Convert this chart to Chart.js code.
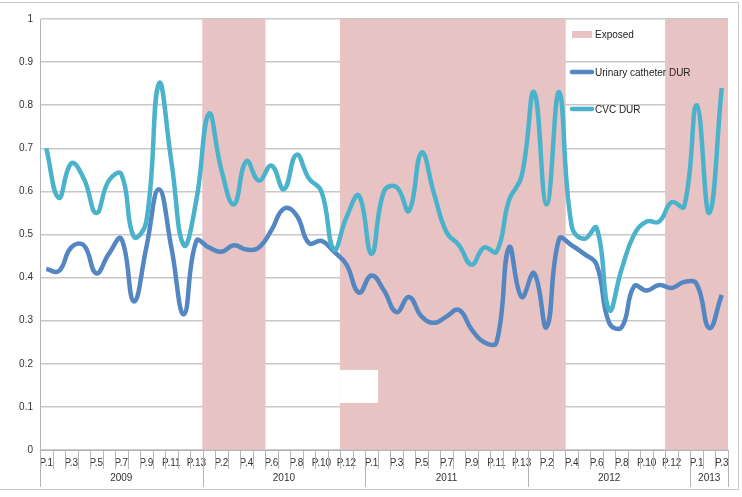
<!DOCTYPE html>
<html>
<head>
<meta charset="utf-8">
<script src="https://cdn.jsdelivr.net/npm/chart.js@4"></script>
<style>
  html, body { margin:0; padding:0; background:#fff; }
  #wrap { width:742px; height:497px; position:relative; }
</style>
</head>
<body>
<div id="wrap"><canvas id="durChart" width="742" height="497"></canvas></div>
<script>
// Data
const years = ["2009","2010","2011","2012","2013"];
const periodsPerYear = [13,13,13,13,3];

const exposed = [
    0,0,0,0,0,0,0,0,0,0,0,0,0,
    1,1,1,1,1,0,0,0,0,0,0,1,1,
    1,1,1,1,1,1,1,1,1,1,1,1,1,
    1,1,1,0,0,0,0,0,0,0,0,1,1,
    1,1,1
];

const urinaryDUR = [
    0.42,0.415,0.47,0.475,0.41,0.455,0.49,0.345,0.47,0.605,0.47,0.315,0.485,
    0.47,0.46,0.475,0.465,0.47,0.51,0.56,0.545,0.48,0.485,0.46,0.43,0.365,
    0.405,0.37,0.32,0.355,0.31,0.295,0.31,0.325,0.28,0.25,0.25,0.47,0.355,
    0.41,0.285,0.49,0.475,0.455,0.43,0.295,0.285,0.38,0.37,0.383,0.376,0.39,
    0.385,0.283,0.36
];

const cvcDUR = [
    0.70,0.585,0.665,0.63,0.55,0.625,0.64,0.495,0.53,0.85,0.67,0.475,0.58,
    0.78,0.65,0.57,0.67,0.625,0.66,0.605,0.685,0.63,0.60,0.465,0.54,0.59,
    0.455,0.60,0.61,0.555,0.69,0.595,0.505,0.475,0.43,0.47,0.46,0.58,0.635,
    0.83,0.57,0.83,0.52,0.49,0.515,0.325,0.42,0.50,0.53,0.53,0.575,0.565,
    0.80,0.55,0.84
];

// white patch seen in the exposed band (2010 P.12 - 2011 P.2)
const patchLow = 0.11;
const patchHigh = 0.185;
const patchPeriods = [24,25,26];

// Build labels
const labels = [];
periodsPerYear.forEach(n=>{
    for(let p=1;p<=n;p++) labels.push("P."+p);
});

const exposedData = exposed.map(e=> e ? 1 : null);
const patchData = labels.map((l,i)=> patchPeriods.includes(i) ? [patchLow,patchHigh] : null);

const FONT = "'Liberation Sans', Arial, sans-serif";

// Extra drawing: ticks, years, legend, frame
const extras = {
    id:"extras",
    afterDraw(chart){
        const c = chart.ctx;
        const x = chart.scales.x;
        const area = chart.chartArea;
        const bottom = area.bottom;

        c.save();
        c.strokeStyle = "#b4b4b4";
        c.lineWidth = 1;

        // small tick marks between periods
        for(let i=0;i<=labels.length;i++){
            const px = Math.round(x.left + i*(x.width/labels.length)) + 0.5;
            c.beginPath();
            c.moveTo(px,bottom);
            c.lineTo(px,bottom+19);
            c.stroke();
        }

        // year separators + labels
        let start = 0;
        c.fillStyle = "#333";
        c.font = "10px " + FONT;
        c.textAlign = "center";
        c.textBaseline = "middle";
        const step = x.width/labels.length;
        years.forEach((y,k)=>{
            const end = start + periodsPerYear[k];
            const x0 = x.left + start*step;
            const x1 = x.left + end*step;
            [x0,x1].forEach(px=>{
                c.beginPath();
                c.moveTo(Math.round(px)+0.5,bottom);
                c.lineTo(Math.round(px)+0.5,bottom+37);
                c.stroke();
            });
            c.fillText(y,(x0+x1)/2,bottom+28);
            start = end;
        });

        // frame of the chart object
        c.strokeStyle = "#c8c8c8";
        c.beginPath();
        c.moveTo(0,2.5); c.lineTo(738.5,2.5);
        c.lineTo(738.5,489.5); c.lineTo(0,489.5);
        c.stroke();

        // legend
        const lx = area.right - 158;
        c.textAlign = "left";
        c.fillStyle = "#e8c3c3";
        c.fillRect(lx+2,31,20,7);
        c.fillStyle = "#222";
        c.fillText("Exposed",lx+25,35);

        c.lineWidth = 4.5;
        c.lineCap = "round";
        c.strokeStyle = "#5486c2";
        c.beginPath(); c.moveTo(lx+2,72); c.lineTo(lx+22,72); c.stroke();
        c.fillText("Urinary catheter DUR",lx+25,73);

        c.strokeStyle = "#4bb2cc";
        c.beginPath(); c.moveTo(lx+2,109); c.lineTo(lx+22,109); c.stroke();
        c.fillText("CVC DUR",lx+25,110);

        c.restore();
    }
};

const ctx = document.getElementById("durChart");

new Chart(ctx,{
    type:"bar",
    data:{
        labels:labels,
        datasets:[
            {
                type:"line",
                label:"CVC DUR",
                data:cvcDUR,
                borderColor:"#4bb2cc",
                borderWidth:4.5,
                pointRadius:0,
                tension:0.45,
                fill:false,
                order:0
            },
            {
                type:"line",
                label:"Urinary catheter DUR",
                data:urinaryDUR,
                borderColor:"#5486c2",
                borderWidth:4.5,
                pointRadius:0,
                tension:0.45,
                fill:false,
                order:1
            },
            {
                label:"patch",
                data:patchData,
                backgroundColor:"#ffffff",
                barPercentage:1,
                categoryPercentage:1,
                grouped:false,
                order:2
            },
            {
                label:"Exposed",
                data:exposedData,
                backgroundColor:"#e8c3c3",
                barPercentage:1,
                categoryPercentage:1,
                grouped:false,
                order:3
            }
        ]
    },
    options:{
        responsive:false,
        animation:false,
        layout:{
            padding:{top:19,right:14,bottom:27,left:0}
        },
        plugins:{
            legend:{display:false},
            tooltip:{enabled:false}
        },
        scales:{
            x:{
                offset:true,
                grid:{display:false, drawTicks:false},
                border:{display:true,color:"#b4b4b4",width:1},
                ticks:{
                    autoSkip:false,
                    maxRotation:0,
                    minRotation:0,
                    padding:7,
                    color:"#333",
                    font:{family:FONT,size:10},
                    callback:function(val,i){
                        return i%2===0 ? labels[i] : "";
                    }
                },
                afterFit:function(scale){ scale.height = 20; }
            },
            y:{
                min:0,
                max:1,
                ticks:{
                    stepSize:0.1,
                    padding:7,
                    color:"#333",
                    font:{family:FONT,size:10},
                    callback:function(v){ return +v.toFixed(1); }
                },
                grid:{color:"#c8c8c8",lineWidth:1.5,drawTicks:false},
                border:{display:true,color:"#b4b4b4",width:1},
                afterFit:function(scale){ scale.width = 40; }
            }
        }
    },
    plugins:[extras]
});
</script>
</body>
</html>
